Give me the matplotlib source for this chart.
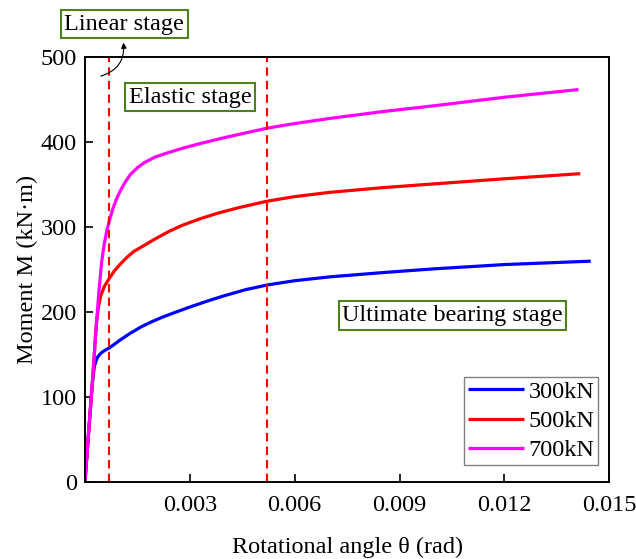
import matplotlib
matplotlib.use("Agg")
import matplotlib.pyplot as plt

plt.rcParams['font.family'] = ['Liberation Serif', 'DejaVu Serif']
plt.rcParams['font.size'] = 17.5

# moment-rotation curves, one per axial load
theta_300 = [0, 0.00010, 0.00018, 0.00021, 0.00024, 0.00027, 0.00031, 0.00036, 0.00045,
             0.00055, 0.0007, 0.00085, 0.0010, 0.00129, 0.0016, 0.0019, 0.00224,
             0.0026, 0.0030, 0.0035, 0.0040, 0.0046, 0.00522, 0.0060, 0.0070,
             0.0085, 0.0100, 0.0120, 0.01447]
moment_300 = [0, 56, 100, 115, 127, 136, 142, 147, 151.5,
              154.5, 158, 162.5, 167, 175, 182.5, 188.5, 194.5,
              200, 206, 213, 219.5, 226.5, 232, 237, 241.5,
              246.5, 251, 256, 260]

theta_500 = [0, 0.00010, 0.00020, 0.00026, 0.00030, 0.00034, 0.00039, 0.00045, 0.00055,
             0.0007, 0.00085, 0.0010, 0.0012, 0.0014, 0.00167, 0.0020, 0.0024,
             0.0028, 0.0033, 0.0038, 0.0044, 0.0052, 0.0060, 0.0070, 0.0085,
             0.0100, 0.0120, 0.01417]
moment_500 = [0, 56, 110, 145, 172, 192, 207, 219, 230,
              240, 249, 256, 264.5, 271.5, 278, 286, 295,
              302.5, 310, 316.5, 323, 330.5, 336, 341, 346.5,
              351, 357, 363]

theta_700 = [0, 0.00010, 0.00020, 0.00030, 0.00040, 0.00048, 0.00055, 0.00062, 0.0007,
             0.0008, 0.0009, 0.0010, 0.00115, 0.0013, 0.0015, 0.0017, 0.0020,
             0.0024, 0.0028, 0.0033, 0.0040, 0.0046, 0.0052, 0.0060, 0.0070,
             0.0085, 0.0100, 0.0120, 0.01412]
moment_700 = [0, 56, 112, 170, 225, 260, 280, 295, 308,
              322, 333, 342, 353, 362, 370, 376, 382.5,
              388, 393, 398.5, 405.5, 411, 416.5, 422, 428,
              436, 443, 453, 462]

series = [("300kN", theta_300, moment_300, "#0000ff"),
          ("500kN", theta_500, moment_500, "#ff0000"),
          ("700kN", theta_700, moment_700, "#ff00ff")]

# stage boundaries (rad)
stage_bounds = [0.0007, 0.0052]

x_ticks = [0.003, 0.006, 0.009, 0.012, 0.015]
y_ticks = [0, 100, 200, 300, 400, 500]

fig = plt.figure(figsize=(6.36, 5.59), dpi=100)
ax = fig.add_axes([0.1336, 0.1377, 0.8244, 0.7598])

for label, th, m, c in series:
    ax.plot(th, m, color=c, lw=2.3, label=label, solid_capstyle='butt',
            solid_joinstyle='round')

for b in stage_bounds:
    ax.axvline(b, color='#ff0000', lw=1.5, ls=(0, (4, 2.5)))

ax.set_xlim(0, 0.015)
ax.set_ylim(0, 500)
ax.set_xticks(x_ticks)
ax.set_xticklabels([f"{t:.3f}" for t in x_ticks])
ax.set_yticks(y_ticks)
ax.tick_params(direction='in', length=6, width=1.2, labelsize=17.5)
ax.tick_params(axis='x', pad=9)
ax.tick_params(axis='y', pad=6)
for sp in ax.spines.values():
    sp.set_linewidth(1.4)

ax.set_xlabel("Rotational angle θ (rad)", fontsize=17.5, labelpad=15)
ax.set_ylabel("Moment M (kN·m)", fontsize=17.5, labelpad=2)

leg = ax.legend(loc='lower right', bbox_to_anchor=(0.979, 0.04), borderaxespad=0,
                fancybox=False, framealpha=1, edgecolor='#808080',
                handlelength=2.3, handletextpad=0.2, labelspacing=0.3,
                borderpad=0.15, fontsize=17.5)
leg.get_frame().set_linewidth(1.0)

box = dict(boxstyle='square,pad=0.15', fc='white', ec='#4f7f1f', lw=1.5)
ax.text(0.0748, 1.078, "Linear stage", transform=ax.transAxes, ha='center',
        va='center', bbox=box, clip_on=False)
ax.text(0.2006, 0.906, "Elastic stage", transform=ax.transAxes, ha='center',
        va='center', bbox=box)
ax.text(0.701, 0.392, "Ultimate bearing stage", transform=ax.transAxes,
        ha='center', va='center', bbox=box)

# curved pointer from the first stage up to its label
ax.annotate("", xy=(0.0727, 1.041), xycoords='axes fraction',
            xytext=(0.025, 0.954), textcoords='axes fraction',
            arrowprops=dict(arrowstyle='-|>', color='black', lw=0.8,
                            mutation_scale=8,
                            connectionstyle='arc3,rad=0.45'),
            annotation_clip=False)

fig.savefig("out.png", dpi=100)
